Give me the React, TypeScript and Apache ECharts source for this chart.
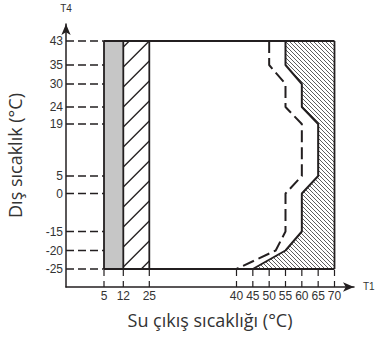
import React, { useEffect, useRef } from 'react';
import * as echarts from 'echarts';

// ---------------- data ----------------
const xTicks = [5, 12, 25, 40, 45, 50, 55, 60, 65, 70]; // T1 (°C)
const yTicks = [-25, -20, -15, 0, 5, 19, 24, 30, 35, 43]; // T4 (°C)

// solid limit of the operating range (left edge of hatched zone)
const limitT1 = [55, 55, 60, 60, 65, 65, 60, 60, 55, 45];
const limitT4 = [43, 35, 30, 24, 19, 5, 0, -15, -20, -25];
// dashed limit
const dashedT1 = [50, 50, 55, 55, 60, 60, 55, 55, 52, 40];
const dashedT4 = [43, 35, 30, 24, 19, 5, 0, -15, -20, -25];

// left bands (gray, hatched)
const bandStart = [5, 12];
const bandEnd = [12, 25];

const rangeT1 = [5, 70];
const rangeT4 = [-25, 43];

// ---------------- schematic (non-linear) axis layout ----------------
const xAnchorT = [5, 12, 25, 40, 70];
const xAnchorPos = [38, 57.3, 83.3, 170.5, 268.5];
const yAnchorT = [-25, -20, -15, 0, 5, 19, 24, 30, 35, 43];
const yAnchorPos = [18, 36.5, 55.5, 93.5, 111, 163, 180, 203, 222, 246];

function interp(v: number, xs: number[], ys: number[]) {
  const n = xs.length - 1;
  if (v <= xs[0]) return ys[0] + ((v - xs[0]) * (ys[1] - ys[0])) / (xs[1] - xs[0]);
  for (let i = 0; i < n; i++) {
    if (v <= xs[i + 1]) return ys[i] + ((v - xs[i]) * (ys[i + 1] - ys[i])) / (xs[i + 1] - xs[i]);
  }
  return ys[n] + ((v - xs[n]) * (ys[n] - ys[n - 1])) / (xs[n] - xs[n - 1]);
}
const fx = (t: number) => interp(t, xAnchorT, xAnchorPos);
const fy = (t: number) => interp(t, yAnchorT, yAnchorPos);
const labelFor = (ticks: number[], f: (t: number) => number) => (v: number) => {
  const t = ticks.find((tt) => Math.abs(f(tt) - v) < 0.01);
  return t === undefined ? '' : String(t);
};

const INK = '#231f20';
const TXT = '#333';

// hatch lines clipped to a polygon (dir 1: "/" , dir -1: "\")
function hatch(poly: number[][], dir: number, step: number, phase: number, style: any) {
  const cs = poly.map((p) => p[0] + dir * p[1]);
  const cmin = Math.min(...cs);
  const cmax = Math.max(...cs);
  const k0 = Math.ceil((cmin - phase) / step);
  const k1 = Math.floor((cmax - phase) / step);
  const out: any[] = [];
  for (let k = k0; k <= k1; k++) {
    const c = phase + k * step;
    const pts: number[][] = [];
    for (let i = 0; i < poly.length; i++) {
      const j = (i + 1) % poly.length;
      const a = poly[i];
      const b = poly[j];
      const ca = cs[i];
      const cb = cs[j];
      if ((ca <= c && c < cb) || (cb <= c && c < ca)) {
        const t = (c - ca) / (cb - ca);
        pts.push([a[0] + t * (b[0] - a[0]), a[1] + t * (b[1] - a[1])]);
      }
    }
    pts.sort((p, q) => p[0] - q[0]);
    for (let m = 0; m + 1 < pts.length; m += 2) {
      out.push({
        type: 'line',
        silent: true,
        shape: { x1: pts[m][0], y1: pts[m][1], x2: pts[m + 1][0], y2: pts[m + 1][1] },
        style,
      });
    }
  }
  return out;
}

export default function App() {
  const ref = useRef<HTMLDivElement>(null);

  useEffect(() => {
    if (!ref.current) return;
    const chart = echarts.init(ref.current, undefined, { renderer: 'svg' });

    const option: any = {
      animation: false,
      grid: {
        left: 66,
        top: 24,
        width: 288,
        height: 263,
        containLabel: false,
        outerBoundsMode: 'none',
      },
      xAxis: {
        type: 'value',
        min: 0,
        max: 288,
        name: 'Su çıkış sıcaklığı (°C)',
        nameLocation: 'middle',
        nameGap: 24,
        nameTextStyle: { fontFamily: 'Open Sans', fontSize: 18, color: TXT },
        axisLine: {
          show: true,
          symbol: ['none', 'arrow'],
          symbolSize: [7, 11],
          lineStyle: { color: INK, width: 1.5 },
        },
        axisTick: { show: false },
        splitLine: { show: false },
        axisLabel: {
          customValues: xTicks.map(fx),
          formatter: labelFor(xTicks, fx),
          margin: 3,
          fontFamily: 'Liberation Sans',
          fontSize: 12,
          color: TXT,
          hideOverlap: false,
        },
      },
      yAxis: {
        type: 'value',
        min: 0,
        max: 263,
        name: 'Dış sıcaklık (°C)',
        nameLocation: 'middle',
        nameRotate: 90,
        nameGap: 42,
        nameTextStyle: { fontFamily: 'Open Sans', fontSize: 18, color: TXT },
        axisLine: {
          show: true,
          symbol: ['none', 'arrow'],
          symbolSize: [7, 11],
          lineStyle: { color: INK, width: 1.5 },
        },
        axisTick: { show: false },
        splitLine: { show: false },
        axisLabel: {
          customValues: yTicks.map(fy),
          formatter: labelFor(yTicks, fy),
          margin: 3,
          fontFamily: 'Liberation Sans',
          fontSize: 12,
          color: TXT,
          hideOverlap: false,
        },
      },
      graphic: [
        {
          type: 'text',
          x: 66,
          y: 8,
          style: {
            text: 'T4',
            fill: TXT,
            font: '10px "Liberation Sans"',
            align: 'center',
            textAlign: 'center',
            verticalAlign: 'middle',
            textVerticalAlign: 'middle',
          },
        },
        {
          type: 'text',
          x: 363,
          y: 286,
          style: {
            text: 'T1',
            fill: TXT,
            font: '10px "Liberation Sans"',
            align: 'left',
            textAlign: 'left',
            verticalAlign: 'middle',
            textVerticalAlign: 'middle',
          },
        },
      ],
      series: [
        // left bands
        {
          type: 'custom',
          clip: false,
          silent: true,
          data: bandStart.map((s, i) => [s, bandEnd[i]]),
          renderItem: (params: any, api: any) => {
            const x0 = api.value(0);
            const x1 = api.value(1);
            const tl = api.coord([fx(x0), fy(rangeT4[1])]);
            const br = api.coord([fx(x1), fy(rangeT4[0])]);
            if (params.dataIndex === 0) {
              return {
                type: 'rect',
                shape: { x: tl[0], y: tl[1], width: br[0] - tl[0], height: br[1] - tl[1] },
                style: { fill: '#c6c6c6' },
              };
            }
            const poly = [
              [tl[0], tl[1]],
              [br[0], tl[1]],
              [br[0], br[1]],
              [tl[0], br[1]],
            ];
            return {
              type: 'group',
              children: hatch(poly, 1, 20, br[0] + tl[1], { stroke: INK, lineWidth: 1.3 }),
            };
          },
        },
        // right hatched zone (strips between limit line and T1 = 70)
        {
          type: 'custom',
          clip: false,
          silent: true,
          data: limitT1.map((t, i) => [t, limitT4[i]]),
          renderItem: (params: any, api: any) => {
            const i = params.dataIndex;
            if (i >= limitT1.length - 1) return { type: 'group', children: [] };
            const a = api.coord([fx(limitT1[i]), fy(limitT4[i])]);
            const b = api.coord([fx(limitT1[i + 1]), fy(limitT4[i + 1])]);
            const ra = api.coord([fx(rangeT1[1]), fy(limitT4[i])]);
            const rb = api.coord([fx(rangeT1[1]), fy(limitT4[i + 1])]);
            return {
              type: 'group',
              children: hatch([a, b, rb, ra], -1, 4, 0, { stroke: '#333', lineWidth: 0.8 }),
            };
          },
        },
        // dashed guides from the T4 axis
        {
          type: 'custom',
          clip: false,
          silent: true,
          data: yTicks.map((t) => [0, t]),
          renderItem: (params: any, api: any) => {
            const t = yTicks[params.dataIndex];
            const p0 = api.coord([0, fy(t)]);
            const p1 = api.coord([fx(rangeT1[0]), fy(t)]);
            return {
              type: 'line',
              shape: { x1: p0[0], y1: p0[1], x2: p1[0], y2: p1[1] },
              style: { stroke: INK, lineWidth: 1.5, lineDash: [8, 4] },
            };
          },
        },
        // dashed guides to the T1 axis
        {
          type: 'custom',
          clip: false,
          silent: true,
          data: xTicks.map((t) => [t, 0]),
          renderItem: (params: any, api: any) => {
            const t = xTicks[params.dataIndex];
            const p0 = api.coord([fx(t), 0]);
            const p1 = api.coord([fx(t), fy(rangeT4[0])]);
            return {
              type: 'line',
              shape: { x1: p0[0], y1: p0[1], x2: p1[0], y2: p1[1] },
              style: { stroke: INK, lineWidth: 1.2, lineDash: [6, 5] },
            };
          },
        },
        // vertical frame edges
        {
          type: 'custom',
          clip: false,
          silent: true,
          data: [bandStart[0], ...bandEnd, rangeT1[1]].map((t) => [t, 0]),
          renderItem: (params: any, api: any) => {
            const t = api.value(0);
            const p0 = api.coord([fx(t), fy(rangeT4[0])]);
            const p1 = api.coord([fx(t), fy(rangeT4[1])]);
            return {
              type: 'line',
              shape: { x1: p0[0], y1: p0[1], x2: p1[0], y2: p1[1] },
              style: { stroke: INK, lineWidth: 1.8 },
            };
          },
        },
        // top frame line
        {
          type: 'line',
          symbol: 'none',
          silent: true,
          clip: false,
          lineStyle: { color: INK, width: 2 },
          data: rangeT1.map((t) => [fx(t), fy(rangeT4[1])]),
        },
        // bottom frame line
        {
          type: 'line',
          symbol: 'none',
          silent: true,
          clip: false,
          lineStyle: { color: INK, width: 1.8 },
          data: rangeT1.map((t) => [fx(t), fy(rangeT4[0])]),
        },
        // solid limit
        {
          type: 'line',
          symbol: 'none',
          silent: true,
          clip: false,
          lineStyle: { color: INK, width: 2 },
          data: limitT1.map((t, i) => [fx(t), fy(limitT4[i])]),
        },
        // dashed limit
        {
          type: 'line',
          symbol: 'none',
          silent: true,
          clip: false,
          lineStyle: { color: INK, width: 2, type: [12, 5] },
          data: dashedT1.map((t, i) => [fx(t), fy(dashedT4[i])]),
        },
      ],
    };

    chart.setOption(option);
    return () => chart.dispose();
  }, []);

  return (
    <div
      ref={ref}
      style={{ position: 'absolute', left: 0, top: 0, width: 376, height: 342 }}
    />
  );
}
